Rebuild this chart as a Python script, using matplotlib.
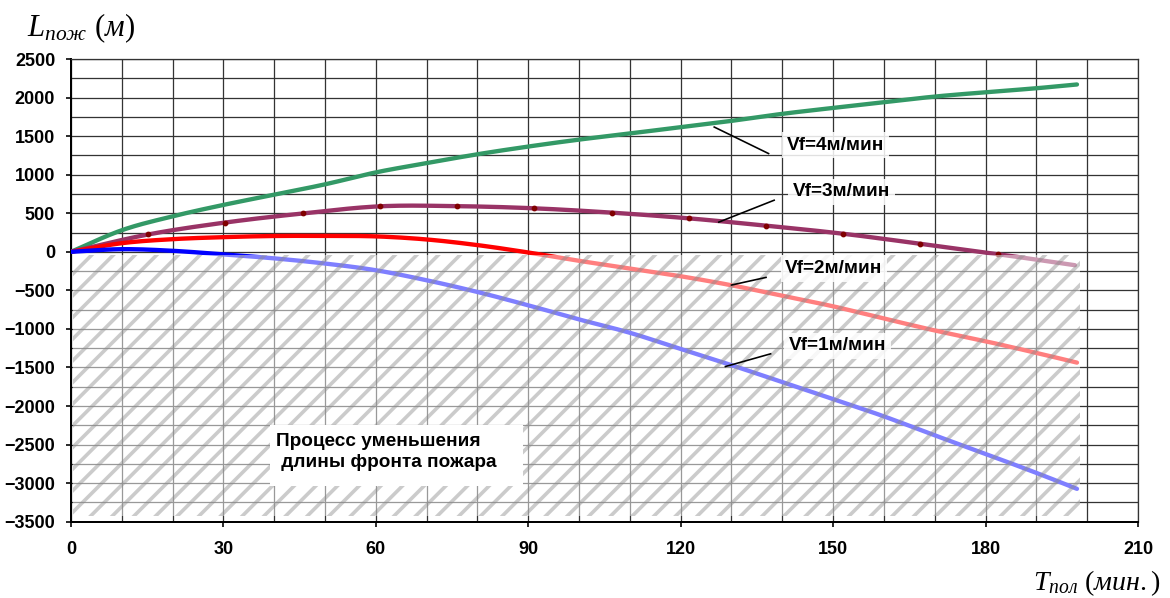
import numpy as np
import matplotlib
matplotlib.use("Agg")
import matplotlib.pyplot as plt
from matplotlib.patches import Rectangle

plt.rcParams['font.family'] = ['Liberation Sans', 'DejaVu Sans']
plt.rcParams['mathtext.fontset'] = 'custom'
plt.rcParams['mathtext.rm'] = 'Liberation Serif'
plt.rcParams['mathtext.it'] = 'Liberation Serif:italic'
plt.rcParams['hatch.linewidth'] = 2.0

# time (min) and fire front length (m)
t_min = [0, 10, 20, 30, 40, 50, 60, 70, 80, 90, 100, 110, 120, 130, 140, 150,
         160, 170, 180, 190, 198]
L_vf4 = [0, 280, 460, 608, 741, 875, 1030, 1150, 1265, 1365, 1455, 1535, 1616,
         1698, 1789, 1866, 1940, 2013, 2069, 2121, 2170]
L_vf2 = [0, 112, 164, 190, 205, 206, 200, 160, 87, -9, -117, -217, -317, -434,
         -570, -707, -865, -1020, -1160, -1311, -1437]
L_vf1 = [0, 34, 13, -34, -85, -152, -239, -369, -521, -694, -877, -1050, -1260,
         -1470, -1690, -1910, -2134, -2380, -2621, -2867, -3074]

# Vf=3 series has its own points (with markers)
t_vf3 = [0, 15.2, 30.4, 45.6, 60.8, 76, 91.2, 106.4, 121.6, 136.8, 152, 167.2,
         182.4, 197.6]
L_vf3 = [0, 225, 380, 497, 590, 592, 564, 508, 434, 339, 234, 104, -30, -174]

labels = ['Vf=4м/мин', 'Vf=3м/мин', 'Vf=2м/мин', 'Vf=1м/мин']
label_xy = [(140.9, 1380), (142.1, 776), (140.6, -216), (141.3, -1216)]
pointer_from = [(137.3, 1274), (138.4, 669), (136.8, -332), (137.7, -1323)]
pointer_to = [(126.6, 1618), (127.5, 385), (130.0, -431), (128.8, -1488)]

# shaded "decreasing" region
zone_t = (0.3, 198.6)
zone_L = (-3430, -43)


def smooth(x, y, n=12):
    # Catmull-Rom curve through the points, like Excel's smoothed line
    x = np.asarray(x, float)
    y = np.asarray(y, float)
    px = np.concatenate([[2 * x[0] - x[1]], x, [2 * x[-1] - x[-2]]])
    py = np.concatenate([[2 * y[0] - y[1]], y, [2 * y[-1] - y[-2]]])
    s = np.linspace(0, 1, n, endpoint=False)[:, None]
    out = []
    for p in (px, py):
        p0, p1, p2, p3 = p[:-3], p[1:-2], p[2:-1], p[3:]
        seg = 0.5 * (2 * p1 + (-p0 + p2) * s + (2 * p0 - 5 * p1 + 4 * p2 - p3) * s ** 2
                     + (-p0 + 3 * p1 - 3 * p2 + p3) * s ** 3)
        out.append(np.concatenate([seg.T.ravel(), [p[-2]]]))
    return out


fig = plt.figure(figsize=(9, 4.6), dpi=130)
ax = fig.add_axes([0.0607, 0.1276, 0.9119, 0.7737])

lw = 2.4
xs, ys = smooth(t_min, L_vf4)
ax.plot(xs, ys, color='#339966', lw=lw, solid_capstyle='round', zorder=3)
xs, ys = smooth(t_vf3, L_vf3)
ax.plot(xs, ys, color='#993366', lw=lw, solid_capstyle='round', zorder=3)
ax.plot(t_vf3[1:-1], L_vf3[1:-1], ls='none', marker='o', ms=2.2,
        color='#800000', zorder=3)
xs, ys = smooth(t_min, L_vf2)
ax.plot(xs, ys, color='#ff0000', lw=lw, solid_capstyle='round', zorder=3)
xs, ys = smooth(t_min, L_vf1)
ax.plot(xs, ys, color='#0000ff', lw=lw, solid_capstyle='round', zorder=3)

ax.add_patch(Rectangle((zone_t[0], zone_L[0]), zone_t[1] - zone_t[0],
                       zone_L[1] - zone_L[0], facecolor=(1, 1, 1, 0.5),
                       edgecolor=(0.55, 0.55, 0.55, 0.45), hatch='//', lw=0,
                       zorder=4))

for txt, xy, p0, p1 in zip(labels, label_xy, pointer_from, pointer_to):
    ax.plot([p0[0], p1[0]], [p0[1], p1[1]], color='black', lw=0.9, zorder=5)
    ax.text(xy[0], xy[1], txt, ha='left', va='center', fontsize=10.5,
            fontweight='bold', zorder=6,
            bbox=dict(facecolor='white', edgecolor='none', alpha=0.85, pad=2.5))

ax.add_patch(Rectangle((39.1, -3040), 49.8, 798, facecolor='white',
                       edgecolor='none', zorder=6))
ax.text(40.4, -2595, 'Процесс уменьшения\n длины фронта пожара', ha='left',
        va='center', fontsize=10.5, fontweight='bold', linespacing=1.25,
        zorder=7)

ax.set_xlim(0, 210)
ax.set_ylim(-3500, 2500)
ax.set_xticks(np.arange(0, 211, 30))
ax.set_xticks(np.arange(0, 211, 10), minor=True)
ax.set_yticks(np.arange(-3500, 2501, 500))
ax.set_yticks(np.arange(-3500, 2501, 250), minor=True)
ax.grid(which='both', color='#333333', lw=0.7, zorder=1)
ax.set_axisbelow(True)
ax.tick_params(which='major', direction='out', length=2.8, width=0.9,
               labelsize=10)
ax.tick_params(which='minor', length=0)
ax.tick_params(axis='x', pad=8)
ax.tick_params(axis='y', pad=6)
for lab in ax.get_xticklabels() + ax.get_yticklabels():
    lab.set_fontweight('bold')
for side in ('left', 'bottom'):
    ax.spines[side].set_linewidth(1.1)
    ax.spines[side].set_color('black')
for side in ('top', 'right'):
    ax.spines[side].set_linewidth(0.7)
    ax.spines[side].set_color('#333333')

fig.text(27 / 1170, 1 - 36 / 598, r'$L_{пож}\ (м)$', fontsize=17,
         ha='left', va='baseline')
fig.text(1033 / 1170, 1 - 590 / 598, r'$T_{пол}\ (мин.)$', fontsize=15.5,
         ha='left', va='baseline')

fig.savefig('out.png', dpi=130, facecolor='white')
